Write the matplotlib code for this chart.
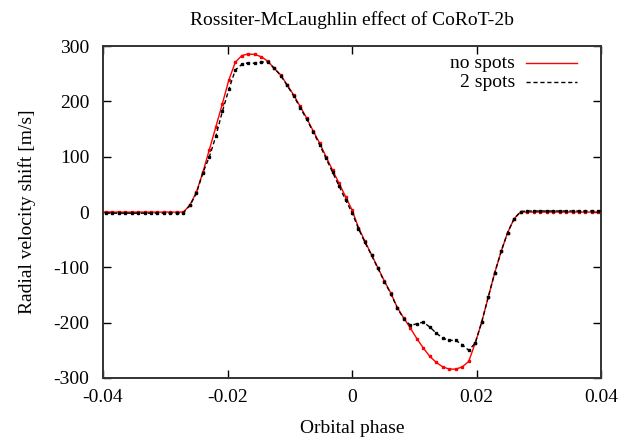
import numpy as np
import matplotlib
matplotlib.use('Agg')
import matplotlib.pyplot as plt
from matplotlib.lines import Line2D

# sampling grid in orbital phase (79 samples)
phase = np.round(np.arange(-39, 40) * 0.0010417, 5)

# radial velocity shift [m/s], no spots
rv_nospots = [0] * 13 + [
    0, 13, 36, 72, 113, 154, 196, 239, 271, 283, 286, 285, 281, 273,
    260, 248, 230, 212, 191, 170, 147, 125, 100, 76, 52, 28,
    4,
    -28, -53, -77, -101, -125, -147, -173, -192, -210, -229, -246, -261,
    -272, -280, -284, -284, -280, -270, -237, -199, -154, -110, -71, -37,
    -12, 0] + [0] * 13

# radial velocity shift [m/s], 2 spots
rv_2spots = [-2] * 13 + [
    -1, 12, 34, 71, 100, 137, 182, 222, 257, 267, 270, 269, 271, 272,
    260, 247, 229, 210, 189, 168, 145, 122, 97, 72, 47, 22,
    -1,
    -30, -55, -78, -102, -126, -148, -174, -193, -205, -202, -199, -208,
    -219, -228, -232, -232, -240, -250, -237, -199, -154, -110, -71, -37,
    -12, 1] + [2] * 13

plt.rcParams['font.family'] = ['Liberation Serif', 'DejaVu Serif']

fig = plt.figure(figsize=(6.36, 4.40), dpi=100)
ax = fig.add_axes([0.162, 0.141, 0.783, 0.754])

ax.plot(phase, rv_nospots, color='#ff0000', lw=1.0, marker='s', ms=1.7,
        mec='#ff0000', mfc='#ff0000', zorder=2)
ax.plot(phase, rv_2spots, color='black', lw=1.0, ls=(0, (3, 2)), marker='s',
        ms=1.7, mec='black', mfc='black', zorder=3)

ax.set_xlim(-0.04, 0.04)
ax.set_ylim(-300, 300)
ax.set_xticks([-0.04, -0.02, 0, 0.02, 0.04])
ax.set_xticklabels(['-0.04', '-0.02', '0', '0.02', '0.04'])
ax.set_yticks([-300, -200, -100, 0, 100, 200, 300])
ax.set_yticklabels(['-300', '-200', '-100', '0', '100', '200', '300'])
ax.tick_params(direction='in', length=6, width=1, top=True, right=True,
               labelsize=14, colors='black')
ax.tick_params(axis='x', pad=8)
ax.tick_params(axis='y', pad=10)
for s in ax.spines.values():
    s.set_linewidth(1.4)
    s.set_color('#333333')

ax.set_xlabel('Orbital phase', fontsize=14, labelpad=10)
ax.set_ylabel('Radial velocity shift [m/s]', fontsize=14, labelpad=12)
ax.set_title('Rossiter-McLaughlin effect of CoRoT-2b', fontsize=14, pad=15)

# gnuplot-like key, right aligned text with sample line
key = [('no spots', dict(color='#ff0000', lw=1.0)),
       ('2 spots', dict(color='black', lw=1.0, ls=(0, (3, 2))))]
for i, (lab, st) in enumerate(key):
    y = 0.949 - i * 0.057
    ax.text(0.827, y, lab, transform=ax.transAxes, ha='right', va='center',
            fontsize=14)
    ax.add_line(Line2D([0.849, 0.952], [y, y], transform=ax.transAxes, **st))

fig.savefig('out.png', dpi=100)
